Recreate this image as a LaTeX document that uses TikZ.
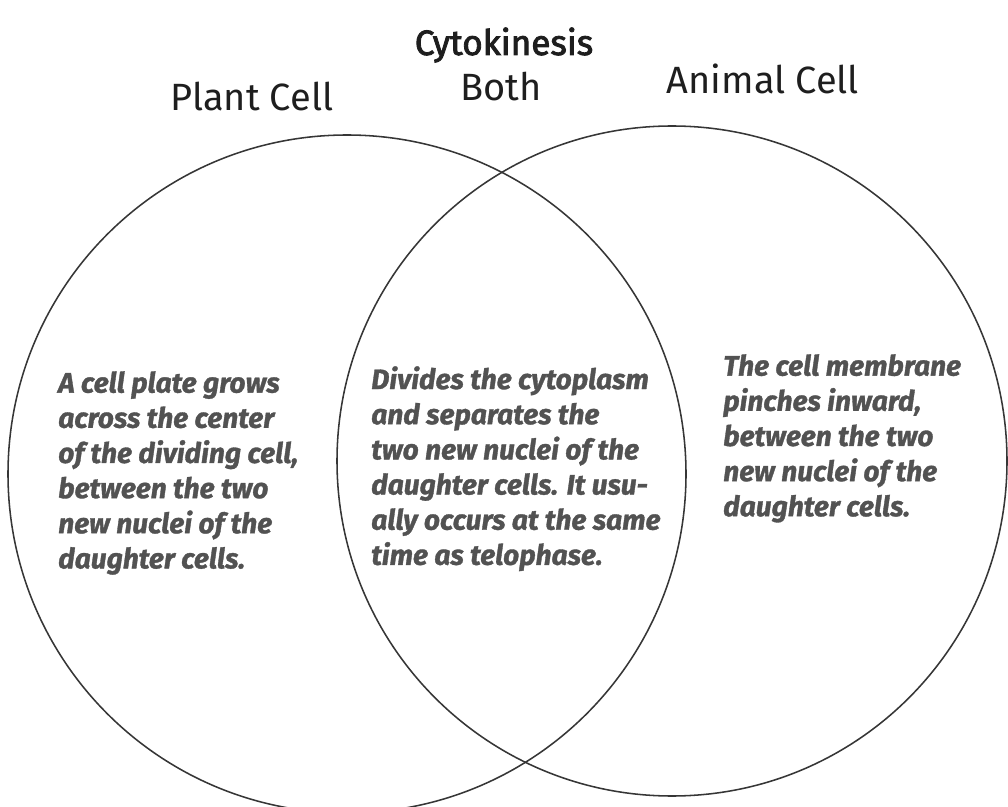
\documentclass[tikz,border=0pt]{standalone}
\usepackage{fontspec}
\setmainfont{Fira Sans}
\newfontfamily\titlefont[FakeBold=2.4]{Fira Sans}
\newfontfamily\factfont[FakeBold=1.2]{Fira Sans}
\definecolor{inkgray}{HTML}{525252}
\definecolor{rimgray}{HTML}{363636}
\definecolor{headblack}{HTML}{1E1E1E}

\begin{document}
\begin{tikzpicture}[
  x=0.025cm, y=-0.025cm,
  heading/.style={font=\fontsize{25}{30}\selectfont\titlefont, text=headblack, inner sep=0pt, anchor=base},
  setname/.style={font=\fontsize{27}{32}\selectfont, text=headblack, inner sep=0pt, anchor=base},
  fact/.style={font=\fontsize{20}{25}\selectfont\factfont\bfseries\itshape, text=inkgray, align=left, inner sep=0pt, anchor=north west},
  rim/.style={draw=rimgray, line width=1.1pt}
]
\useasboundingbox (0,0) rectangle (1008,807);
\clip (0,0) rectangle (1008,807);

% Title and set names
\node[heading] (title)  at (504,55)  {Cytokinesis};
\node[setname] (plant)  at (252,111) {Plant Cell};
\node[setname] (both)   at (501,101) {Both};
\node[setname] (animal) at (763,94)  {Animal Cell};

% The two cells (right one runs off the page edge)
\draw[rim] (347,474) circle[radius=339];
\draw[rim] (672,461) circle[radius=335];

% Text in each region
\node[fact] (plantfact) at (58,371) {A cell plate grows\\across the center\\of the dividing cell,\\between the two\\new nuclei of the\\daughter cells.};
\node[fact] (bothfact) at (371,366) {Divides the cytoplasm\\and separates the\\two new nuclei of the\\daughter cells. It usu-\\ally occurs at the same\\time as telophase.};
\node[fact] (animalfact) at (723,354) {The cell membrane\\pinches inward,\\between the two\\new nuclei of the\\daughter cells.};

\end{tikzpicture}
\end{document}
